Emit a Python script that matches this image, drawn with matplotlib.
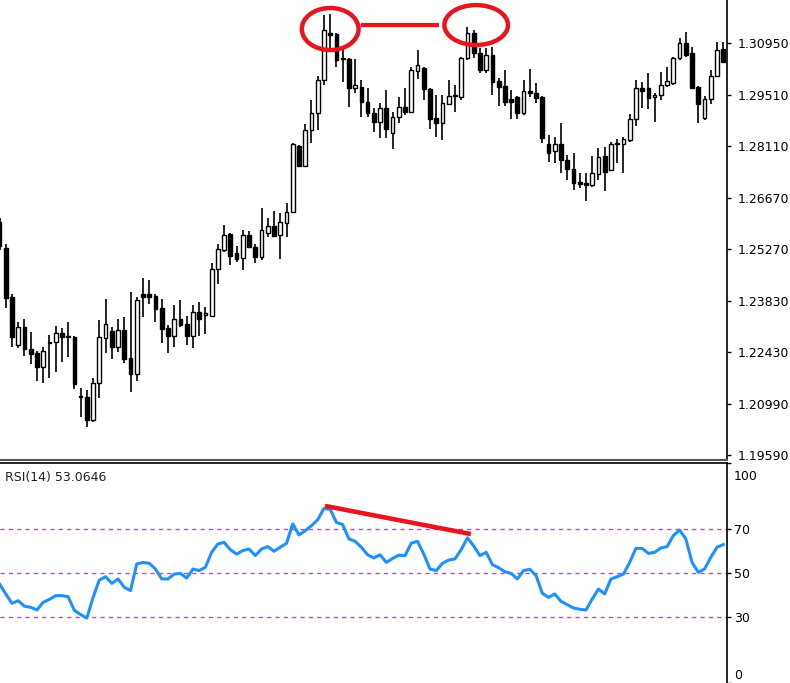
import matplotlib.pyplot as plt
import matplotlib.transforms as mtransforms
from matplotlib.patches import Ellipse

# candle data, oldest first
opens = [1.2602, 1.2530, 1.2395, 1.2263, 1.2312, 1.2252, 1.2241, 1.2202, 1.2271, 1.2271,
         1.2296, 1.2288, 1.2285, 1.2122, 1.2119, 1.2056, 1.2158, 1.2282, 1.2301, 1.2257,
         1.2304, 1.2227, 1.2183, 1.2403, 1.2403, 1.2398, 1.2365, 1.2310, 1.2288, 1.2334,
         1.2321, 1.2288, 1.2354, 1.2346, 1.2343, 1.2472, 1.2525, 1.2569, 1.2516, 1.2503,
         1.2566, 1.2533, 1.2505, 1.2572, 1.2591, 1.2566, 1.2599, 1.2630, 1.2811, 1.2756,
         1.2856, 1.2903, 1.2993, 1.3123, 1.3120, 1.3054, 1.3051, 1.2971, 1.2974, 1.2933,
         1.2903, 1.2878, 1.2916, 1.2847, 1.2891, 1.2919, 1.2905, 1.3018, 1.3027, 1.2969,
         1.2889, 1.2875, 1.2927, 1.2949, 1.2947, 1.3054, 1.3123, 1.3068, 1.3021, 1.3062,
         1.2991, 1.2977, 1.2941, 1.2947, 1.2903, 1.2963, 1.2958, 1.2947, 1.2817, 1.2798,
         1.2817, 1.2773, 1.2748, 1.2712, 1.2709, 1.2704, 1.2734, 1.2784, 1.2745, 1.2817,
         1.2817, 1.2828, 1.2886, 1.2971, 1.2971, 1.2947, 1.2952, 1.2980, 1.2985, 1.3054,
         1.3095, 1.3068, 1.2974, 1.2889, 1.2941, 1.3005, 1.3079]
highs = [1.2613, 1.2541, 1.2403, 1.2326, 1.2334, 1.2299, 1.2246, 1.2257, 1.2290, 1.2315,
         1.2310, 1.2326, 1.2288, 1.2144, 1.2139, 1.2172, 1.2332, 1.2391, 1.2312, 1.2334,
         1.2340, 1.2409, 1.2395, 1.2448, 1.2442, 1.2403, 1.2391, 1.2318, 1.2373, 1.2387,
         1.2343, 1.2373, 1.2381, 1.2368, 1.2489, 1.2541, 1.2594, 1.2572, 1.2536, 1.2580,
         1.2577, 1.2541, 1.2641, 1.2613, 1.2632, 1.2627, 1.2654, 1.2820, 1.2814, 1.2872,
         1.2938, 1.3005, 1.3173, 1.3175, 1.3123, 1.3076, 1.3054, 1.3051, 1.2993, 1.2971,
         1.2916, 1.2930, 1.2966, 1.2905, 1.2947, 1.2971, 1.3029, 1.3076, 1.3029, 1.2971,
         1.2952, 1.2952, 1.2993, 1.2980, 1.3057, 1.3140, 1.3131, 1.3082, 1.3082, 1.3084,
         1.2999, 1.3021, 1.2966, 1.2949, 1.2993, 1.3024, 1.2985, 1.2949, 1.2842, 1.2836,
         1.2875, 1.2787, 1.2792, 1.2737, 1.2737, 1.2784, 1.2806, 1.2809, 1.2822, 1.2831,
         1.2836, 1.2900, 1.2993, 1.2988, 1.3013, 1.2958, 1.3016, 1.3029, 1.3057, 1.3109,
         1.3126, 1.3084, 1.2977, 1.2949, 1.3021, 1.3098, 1.3098]
lows = [1.2525, 1.2365, 1.2257, 1.2255, 1.2232, 1.2211, 1.2164, 1.2158, 1.2172, 1.2188,
        1.2216, 1.2230, 1.2141, 1.2064, 1.2037, 1.2051, 1.2117, 1.2241, 1.2224, 1.2244,
        1.2213, 1.2133, 1.2164, 1.2340, 1.2376, 1.2326, 1.2268, 1.2241, 1.2257, 1.2312,
        1.2263, 1.2255, 1.2288, 1.2293, 1.2340, 1.2431, 1.2519, 1.2483, 1.2492, 1.2470,
        1.2530, 1.2489, 1.2497, 1.2561, 1.2561, 1.2500, 1.2561, 1.2627, 1.2754, 1.2754,
        1.2820, 1.2856, 1.2980, 1.3076, 1.3029, 1.2988, 1.2919, 1.2958, 1.2891, 1.2891,
        1.2850, 1.2834, 1.2834, 1.2803, 1.2875, 1.2897, 1.2903, 1.2996, 1.2938, 1.2858,
        1.2836, 1.2828, 1.2925, 1.2905, 1.2938, 1.3049, 1.3054, 1.3013, 1.3013, 1.2952,
        1.2922, 1.2922, 1.2886, 1.2886, 1.2897, 1.2947, 1.2930, 1.2820, 1.2767, 1.2765,
        1.2737, 1.2718, 1.2690, 1.2696, 1.2660, 1.2698, 1.2718, 1.2687, 1.2743, 1.2765,
        1.2737, 1.2822, 1.2867, 1.2916, 1.2914, 1.2878, 1.2938, 1.2974, 1.2980, 1.3049,
        1.3057, 1.2969, 1.2875, 1.2883, 1.2927, 1.3002, 1.3040]
closes = [1.2536, 1.2392, 1.2285, 1.2312, 1.2252, 1.2238, 1.2202, 1.2246, 1.2268, 1.2296,
          1.2285, 1.2285, 1.2155, 1.2119, 1.2056, 1.2158, 1.2285, 1.2321, 1.2257, 1.2304,
          1.2224, 1.2183, 1.2387, 1.2395, 1.2395, 1.2362, 1.2307, 1.2288, 1.2334, 1.2318,
          1.2288, 1.2354, 1.2334, 1.2351, 1.2472, 1.2528, 1.2566, 1.2508, 1.2500, 1.2566,
          1.2533, 1.2505, 1.2580, 1.2591, 1.2563, 1.2602, 1.2630, 1.2817, 1.2756, 1.2856,
          1.2903, 1.2993, 1.3131, 1.3118, 1.3049, 1.3051, 1.2971, 1.2980, 1.2933, 1.2903,
          1.2878, 1.2916, 1.2858, 1.2891, 1.2919, 1.2905, 1.3021, 1.3035, 1.2969, 1.2886,
          1.2875, 1.2930, 1.2949, 1.2952, 1.3054, 1.3123, 1.3068, 1.3021, 1.3062, 1.2988,
          1.2974, 1.2933, 1.2933, 1.2903, 1.2963, 1.2958, 1.2944, 1.2834, 1.2792, 1.2817,
          1.2773, 1.2748, 1.2709, 1.2707, 1.2704, 1.2737, 1.2781, 1.2740, 1.2817, 1.2820,
          1.2831, 1.2886, 1.2971, 1.2963, 1.2944, 1.2952, 1.2980, 1.2991, 1.3054, 1.3095,
          1.3062, 1.2971, 1.2927, 1.2941, 1.3005, 1.3076, 1.3043]

# RSI(14), one value per candle
rsi = [45.0, 40.5, 36.2, 37.4, 34.9, 34.4, 33.2, 36.7, 38.0, 39.7,
       39.7, 39.2, 33.0, 31.1, 29.5, 38.9, 46.8, 48.3, 45.3, 47.3,
       43.5, 42.0, 54.1, 54.8, 54.4, 51.8, 47.3, 47.3, 49.5, 49.8,
       47.7, 51.8, 51.1, 52.6, 59.4, 63.2, 63.9, 60.6, 58.6, 60.2,
       60.9, 57.9, 60.9, 62.0, 59.9, 61.7, 63.5, 72.3, 67.3, 69.2,
       71.5, 74.2, 79.3, 79.0, 73.0, 72.0, 65.5, 64.4, 61.7, 58.3,
       56.8, 58.3, 54.8, 56.6, 58.1, 57.9, 63.6, 64.4, 58.6, 51.8,
       51.1, 54.4, 55.9, 56.4, 60.6, 66.0, 62.3, 57.9, 59.4, 53.8,
       52.4, 50.6, 49.8, 47.3, 51.1, 51.7, 48.8, 40.8, 38.9, 40.5,
       37.1, 35.6, 34.1, 33.5, 33.2, 38.2, 42.7, 40.5, 47.3, 48.3,
       49.5, 54.8, 61.2, 61.2, 58.9, 59.4, 61.4, 62.0, 67.0, 69.5,
       65.5, 54.8, 50.3, 51.8, 57.1, 61.7, 62.9]

price_ticks = [1.30950, 1.29510, 1.28110, 1.26670, 1.25270, 1.23830, 1.22430, 1.20990, 1.19590]
rsi_ticks = [0, 30, 50, 70, 100]
rsi_levels = [30, 50, 70]
rsi_title = "RSI(14) 53.0646"

# the two tops of the double top and the matching RSI highs
tops = [53, 75]
rsi_tops = [52, 75]

red = "#e8151d"
x = list(range(len(opens)))

fig = plt.figure(figsize=(7.9, 6.83), dpi=100)
ax = fig.add_axes([0, 223 / 683, 727 / 790, 460 / 683])
ax2 = fig.add_axes([0, 0, 727 / 790, 220 / 683], sharex=ax)

# candles
ax.vlines(x, lows, highs, color="black", linewidth=1.2, zorder=2)
bottoms = [min(o, c) for o, c in zip(opens, closes)]
heights = [abs(c - o) for o, c in zip(opens, closes)]
faces = ["white" if c >= o else "black" for o, c in zip(opens, closes)]
ax.bar(x, heights, width=0.6, bottom=bottoms, color=faces,
       edgecolor="black", linewidth=1.0, zorder=3)

# double top marks
e1 = Ellipse((tops[0], highs[tops[0]] - 0.0041), 9.1, 0.0116,
             fill=False, edgecolor=red, linewidth=3.2, zorder=5)
e2 = Ellipse((tops[1] + 1.4, highs[tops[1]] + 0.0005), 10.2, 0.0110,
             fill=False, edgecolor=red, linewidth=3.2, zorder=5)
ax.add_patch(e1)
ax.add_patch(e2)
ax.plot([tops[0] + 4.9, tops[1] - 4.6], [highs[tops[1]] + 0.0005] * 2,
        color=red, linewidth=3.0, solid_capstyle="butt", zorder=5)

ax.set_xlim(0.08, 116.6)
ax.set_ylim(1.19458, 1.3214)
ax.yaxis.tick_right()
ax.set_yticks(price_ticks)
ax.set_yticklabels(["%.5f" % p for p in price_ticks])
ax.tick_params(axis="y", length=3, width=1, pad=5, labelsize=9, colors="black")
ax.tick_params(axis="x", bottom=False, labelbottom=False)
ax.spines["top"].set_visible(False)
ax.spines["left"].set_visible(False)
ax.spines["right"].set_linewidth(1.2)
ax.spines["bottom"].set_color("#555555")
ax.spines["bottom"].set_linewidth(1.5)

# RSI panel
for lvl in rsi_levels:
    ax2.axhline(lvl, color="#c040e8", linewidth=1.0, linestyle=(0, (3, 3)), zorder=1)
ax2.plot(x, rsi, color="#1e90ff", linewidth=2.2, zorder=3)
ax2.plot([rsi_tops[0] + 0.15, rsi_tops[1] + 0.55],
         [rsi[rsi_tops[0]] + 1.2, rsi[rsi_tops[1]] + 1.7],
         color=red, linewidth=3.3, solid_capstyle="butt", zorder=4)
ax2.text(0.007, 0.935, rsi_title, transform=ax2.transAxes, fontsize=9,
         va="center", ha="left", color="#202020")

ax2.set_ylim(0, 100)
ax2.yaxis.tick_right()
ax2.set_yticks(rsi_ticks)
ax2.set_yticklabels([str(t) for t in rsi_ticks])
ax2.tick_params(axis="y", length=3, width=1, pad=2, labelsize=9, colors="black")
ax2.tick_params(axis="x", bottom=False, labelbottom=False)
ax2.spines["left"].set_visible(False)
ax2.spines["bottom"].set_visible(False)
ax2.spines["right"].set_linewidth(1.2)
ax2.spines["top"].set_linewidth(1.2)

# keep the 0 and 100 labels inside the panel
labels = ax2.get_yticklabels()
labels[0].set_transform(labels[0].get_transform() +
                        mtransforms.ScaledTranslation(0, 0.09, fig.dpi_scale_trans))
labels[-1].set_transform(labels[-1].get_transform() +
                         mtransforms.ScaledTranslation(0, -0.12, fig.dpi_scale_trans))

fig.savefig("out.png", dpi=100)
